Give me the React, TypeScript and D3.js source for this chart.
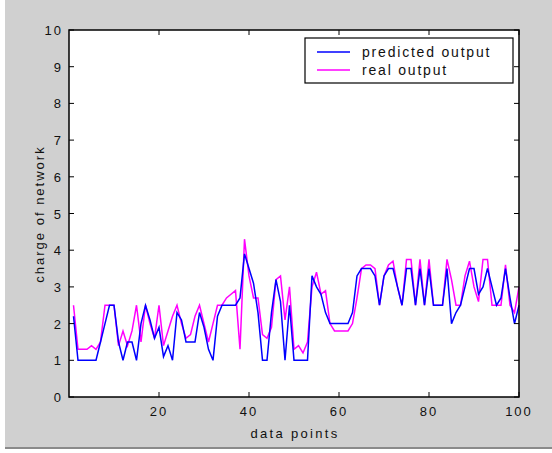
import React from 'react';
import * as d3 from 'd3';

// values, index 1..100
const predicted = [
  2.2, 1, 1, 1, 1, 1, 1.5, 2, 2.5, 2.5,
  1.5, 1, 1.5, 1.5, 1, 2, 2.5, 2.1, 1.6, 1.9,
  1.1, 1.4, 1.0, 2.3, 2.1, 1.5, 1.5, 1.5, 2.3, 1.9,
  1.3, 1.0, 2.2, 2.5, 2.5, 2.5, 2.5, 2.7, 3.9, 3.5,
  3.1, 2.3, 1.0, 1.0, 2.3, 3.2, 2.6, 1.0, 2.5, 1.0,
  1.0, 1.0, 1.0, 3.3, 3.0, 2.8, 2.3, 2.0, 2.0, 2.0,
  2.0, 2.0, 2.3, 3.3, 3.5, 3.5, 3.5, 3.3, 2.5, 3.3,
  3.5, 3.5, 3.0, 2.5, 3.5, 3.5, 2.5, 3.5, 2.5, 3.5,
  2.5, 2.5, 2.5, 3.5, 2.0, 2.3, 2.5, 3.0, 3.5, 3.5,
  2.8, 3.0, 3.5, 3.0, 2.5, 2.7, 3.5, 2.7, 2.0, 2.5,
];
const real = [
  2.5, 1.3, 1.3, 1.3, 1.4, 1.3, 1.5, 2.5, 2.5, 2.5,
  1.4, 1.8, 1.4, 1.8, 2.5, 1.5, 2.5, 2.0, 1.6, 2.5,
  1.4, 1.8, 2.2, 2.5, 2.0, 1.6, 1.7, 2.2, 2.5, 2.0,
  1.5, 2.0, 2.5, 2.5, 2.7, 2.8, 2.9, 1.3, 4.3, 3.3,
  2.7, 2.7, 1.7, 1.6, 1.9, 3.2, 3.3, 2.1, 3.0, 1.3,
  1.4, 1.2, 1.5, 3.0, 3.4, 2.8, 2.9, 2.0, 1.8, 1.8,
  1.8, 1.8, 2.0, 2.7, 3.5, 3.6, 3.6, 3.5, 2.5, 3.3,
  3.6, 3.7, 3.0, 2.5, 3.75, 3.75, 2.5, 3.75, 2.5, 3.75,
  2.5, 2.5, 2.5, 3.75, 3.2, 2.5, 2.5, 3.3, 3.7, 3.0,
  2.6, 3.75, 3.75, 2.5, 2.5, 2.5, 3.6, 2.5, 2.3, 3.0,
];
const xTicks = [20, 40, 60, 80, 100];
const yTicks = [0, 1, 2, 3, 4, 5, 6, 7, 8, 9, 10];
const legendItems = [
  { label: 'predicted output', color: '#0000ff' },
  { label: 'real output', color: '#ff00ff' },
];

const W = 552;
const H = 453;
const m = { left: 69, right: 519, top: 30, bottom: 397 };
const font = '"Liberation Sans", Arial, sans-serif';

export default function App() {
  const x = d3.scaleLinear().domain([0, 100]).range([m.left, m.right]);
  const y = d3.scaleLinear().domain([0, 10]).range([m.bottom, m.top]);
  const line = d3
    .line<number>()
    .x((_, i) => x(i + 1))
    .y((d) => y(d));

  return (
    <svg
      width={W}
      height={H}
      style={{ position: 'absolute', left: 0, top: 0, background: '#fff' }}
      fontFamily={font}
    >
      <rect x={5} y={0} width={W - 5} height={447} fill="#d0d0d0" />
      <line x1={5} x2={W} y1={448} y2={448} stroke="#8a8a8a" strokeWidth={2} />

      <rect
        x={m.left}
        y={m.top}
        width={m.right - m.left}
        height={m.bottom - m.top}
        fill="#fff"
      />

      <path d={line(real) ?? ''} fill="none" stroke="#ff00ff" strokeWidth={1.5} />
      <path d={line(predicted) ?? ''} fill="none" stroke="#0000ff" strokeWidth={1.5} />

      {/* ticks inside the box */}
      {xTicks.map((t) => (
        <g key={'xt' + t}>
          <line x1={x(t)} x2={x(t)} y1={m.bottom} y2={m.bottom - 5} stroke="#000" />
          <line x1={x(t)} x2={x(t)} y1={m.top} y2={m.top + 5} stroke="#000" />
          <text
            x={x(t)}
            y={416}
            textAnchor="middle"
            fontSize={13}
            letterSpacing={2}
            fill="#111"
          >
            {t}
          </text>
        </g>
      ))}
      {yTicks.map((t) => (
        <g key={'yt' + t}>
          <line x1={m.left} x2={m.left + 5} y1={y(t)} y2={y(t)} stroke="#000" />
          <line x1={m.right} x2={m.right - 5} y1={y(t)} y2={y(t)} stroke="#000" />
          <text
            x={63}
            y={y(t) + 5}
            textAnchor="end"
            fontSize={13}
            letterSpacing={2}
            fill="#111"
          >
            {t}
          </text>
        </g>
      ))}

      <rect
        x={m.left}
        y={m.top}
        width={m.right - m.left}
        height={m.bottom - m.top}
        fill="none"
        stroke="#000"
        strokeWidth={1.5}
      />

      <text x={295} y={438} textAnchor="middle" fontSize={13} letterSpacing={2.3} fill="#111">
        data points
      </text>
      <text
        transform={`translate(44,214) rotate(-90)`}
        textAnchor="middle"
        fontSize={13}
        letterSpacing={2}
        fill="#111"
      >
        charge of network
      </text>

      <g>
        <rect x={305} y={38} width={208} height={45} fill="#fff" stroke="#000" strokeWidth={1.2} />
        {legendItems.map((it, i) => (
          <g key={it.label}>
            <line
              x1={317}
              x2={350}
              y1={52 + i * 18}
              y2={52 + i * 18}
              stroke={it.color}
              strokeWidth={1.5}
            />
            <text x={362} y={57 + i * 18} fontSize={14} letterSpacing={1.8} fill="#111">
              {it.label}
            </text>
          </g>
        ))}
      </g>
    </svg>
  );
}
